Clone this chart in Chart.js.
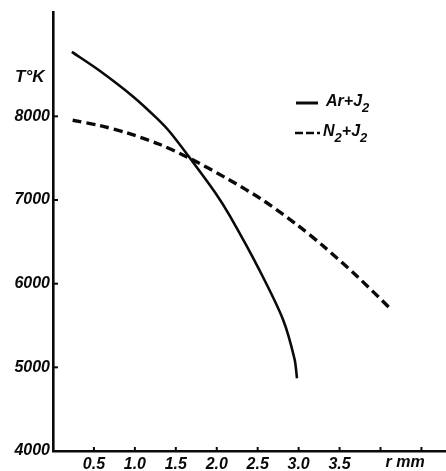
<!DOCTYPE html>
<html>
<head>
<meta charset="utf-8">
<script src="https://cdn.jsdelivr.net/npm/chart.js@4"></script>
<style>
html,body{margin:0;padding:0;background:#fff;}
#wrap{width:446px;height:471px;}
</style>
</head>
<body>
<div id="wrap"><canvas id="c" width="446" height="471" style="width:446px;height:471px"></canvas></div>
<script>
// Data
const radiusAr = [0.23, 0.57, 0.98, 1.27, 1.43, 1.67, 1.98, 2.16, 2.52, 2.81, 2.95, 2.98];
const tempAr   = [8770, 8545, 8235, 7975, 7810, 7505, 7090, 6810, 6165, 5570, 5100, 4870];
const radiusN2 = [0.24, 0.57, 0.90, 1.30, 1.67, 2.13, 2.56, 2.98, 3.29, 3.71, 4.13];
const tempN2   = [7953, 7890, 7803, 7666, 7498, 7254, 7000, 6704, 6459, 6092, 5692];
const yTicks = [4000, 5000, 6000, 7000, 8000];
const xTicks = [0.5, 1.0, 1.5, 2.0, 2.5, 3.0, 3.5, 4.0, 4.5];
const xLabels = ['0.5', '1.0', '1.5', '2.0', '2.5', '3.0', '3.5', '', ''];
const seriesNames = ['Ar+J', 'N'];

const FONT = '"Liberation Sans", Arial, sans-serif';
const INK = '#0a0a0a';

const extras = {
  id: 'extras',
  afterDraw(chart) {
    const {ctx, chartArea, scales} = chart;
    const x = scales.x, y = scales.y;
    ctx.save();
    ctx.strokeStyle = INK;
    ctx.fillStyle = INK;
    // inner tick marks on y axis
    ctx.lineWidth = 2;
    yTicks.slice(1).forEach(v => {
      const py = y.getPixelForValue(v);
      ctx.beginPath();
      ctx.moveTo(chartArea.left, py);
      ctx.lineTo(chartArea.left + 5, py);
      ctx.stroke();
    });
    // inner tick marks on x axis
    xTicks.forEach(v => {
      const px = x.getPixelForValue(v);
      ctx.beginPath();
      ctx.moveTo(px, chartArea.bottom);
      ctx.lineTo(px, chartArea.bottom - 4);
      ctx.stroke();
    });
    // axis titles
    ctx.font = 'italic bold 17px ' + FONT;
    ctx.textBaseline = 'middle';
    ctx.textAlign = 'left';
    ctx.fillText('T°K', 15, 77);
    ctx.font = 'italic bold 16px ' + FONT;
    ctx.textAlign = 'center';
    ctx.fillText('r mm', x.getPixelForValue(4.3), 463);

    // legend
    ctx.textAlign = 'left';
    ctx.lineWidth = 3;
    ctx.beginPath();
    ctx.moveTo(296, 103);
    ctx.lineTo(318, 103);
    ctx.stroke();
    ctx.setLineDash([8, 3]);
    ctx.lineWidth = 2.6;
    ctx.beginPath();
    ctx.moveTo(295, 133);
    ctx.lineTo(320, 133);
    ctx.stroke();
    ctx.setLineDash([]);
    function label(main, xx, yy) {
      ctx.font = 'italic bold 16px ' + FONT;
      ctx.fillText(main, xx, yy);
      let w = ctx.measureText(main).width;
      ctx.font = 'italic bold 13px ' + FONT;
      ctx.fillText('2', xx + w, yy + 6);
      return xx + w + ctx.measureText('2').width;
    }
    label(seriesNames[0], 326, 102);
    let nx = label(seriesNames[1], 323, 132);
    label('+J', nx, 132);
    ctx.restore();
  }
};

new Chart(document.getElementById('c'), {
  type: 'line',
  data: {
    datasets: [
      {
        label: 'Ar+J2',
        data: radiusAr.map((r, i) => ({x: r, y: tempAr[i]})),
        borderColor: INK,
        borderWidth: 2.6,
        pointRadius: 0,
        tension: 0.3,
        fill: false
      },
      {
        label: 'N2+J2',
        data: radiusN2.map((r, i) => ({x: r, y: tempN2[i]})),
        borderColor: INK,
        borderWidth: 3.4,
        borderDash: [9, 5],
        pointRadius: 0,
        tension: 0.3,
        fill: false
      }
    ]
  },
  options: {
    responsive: false,
    animation: false,
    devicePixelRatio: 1,
    layout: {padding: {top: 7, right: 0, left: 0, bottom: 0}},
    plugins: {legend: {display: false}, tooltip: {enabled: false}},
    scales: {
      x: {
        type: 'linear',
        min: 0,
        max: 4.8,
        afterBuildTicks: s => { s.ticks = xTicks.map(v => ({value: v})); },
        afterFit: s => { s.height = 20; },
        border: {display: true, color: INK, width: 2.6},
        grid: {display: true, drawOnChartArea: false, drawTicks: false, color: 'rgba(0,0,0,0)'},
        ticks: {
          autoSkip: false,
          maxRotation: 0,
          padding: 4,
          color: INK,
          font: {family: FONT, size: 16, weight: 'bold', style: 'italic'},
          callback: (v, i) => xLabels[i]
        }
      },
      y: {
        type: 'linear',
        min: 4000,
        max: 9240,
        afterBuildTicks: s => { s.ticks = yTicks.map(v => ({value: v})); },
        afterFit: s => { s.width = 53; },
        border: {display: true, color: INK, width: 2.6},
        grid: {display: true, drawOnChartArea: false, drawTicks: false, color: 'rgba(0,0,0,0)'},
        ticks: {
          padding: 3,
          color: INK,
          font: {family: FONT, size: 16, weight: 'bold', style: 'italic'},
          callback: v => String(v)
        }
      }
    }
  },
  plugins: [extras]
});
</script>
</body>
</html>
